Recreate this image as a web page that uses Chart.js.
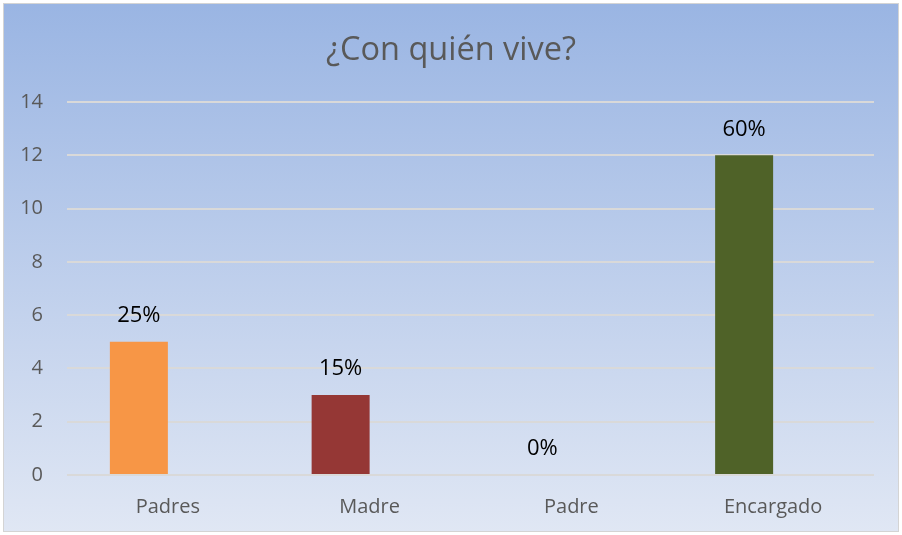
<!DOCTYPE html>
<html>
<head>
<meta charset="utf-8">
<script src="https://cdn.jsdelivr.net/npm/chart.js@4.4.0/dist/chart.umd.min.js"></script>
<style>
  html, body { margin: 0; padding: 0; background: #fff; }
  #wrap { width: 902px; height: 535px; }
</style>
</head>
<body>
<div id="wrap"><canvas id="grafico"></canvas></div>
<script>
// datos del grafico
var categorias = ['Padres', 'Madre', 'Padre', 'Encargado'];
var valores = [5, 3, 0, 12];
var porcentajes = ['25%', '15%', '0%', '60%'];
var colores = ['#F79646', '#953735', '#4F81BD', '#4F6228'];
var vacio = [null, null, null, null];
var ticksY = [0, 2, 4, 6, 8, 10, 12, 14];
var titulo = '¿Con quién vive?';

var fuente = '"Open Sans", sans-serif';

// fondo degradado con borde + titulo centrado en el lienzo
var fondo = {
  id: 'fondo',
  beforeDraw: function(chart) {
    var ctx = chart.ctx;
    ctx.save();
    var g = ctx.createLinearGradient(0, 4, 0, 532);
    g.addColorStop(0, '#9AB5E3');
    g.addColorStop(1, '#E0E7F4');
    ctx.fillStyle = g;
    ctx.fillRect(3, 3, 896, 529);
    ctx.strokeStyle = '#D4D4D4';
    ctx.lineWidth = 1;
    ctx.strokeRect(3.5, 3.5, 895, 528);
    ctx.fillStyle = '#595959';
    ctx.font = '32.5px ' + fuente;
    ctx.textAlign = 'center';
    ctx.textBaseline = 'alphabetic';
    ctx.fillText(titulo, chart.width / 2, 60);
    ctx.restore();
  }
};

// etiquetas de porcentaje encima de las barras
var etiquetas = {
  id: 'etiquetas',
  afterDatasetsDraw: function(chart) {
    var ctx = chart.ctx;
    var meta = chart.getDatasetMeta(0);
    ctx.save();
    ctx.fillStyle = '#000';
    ctx.font = '22px ' + fuente;
    ctx.textAlign = 'center';
    ctx.textBaseline = 'middle';
    meta.data.forEach(function(bar, i) {
      ctx.fillText(porcentajes[i], bar.x, bar.y - 26);
    });
    ctx.restore();
  }
};

new Chart(document.getElementById('grafico'), {
  type: 'bar',
  data: {
    labels: categorias,
    datasets: [
      { label: 'Serie 1', data: valores, backgroundColor: colores },
      { label: 'Serie 2', data: vacio, backgroundColor: '#C0504D' }
    ]
  },
  options: {
    responsive: true,
    maintainAspectRatio: false,
    animation: false,
    categoryPercentage: 0.575,
    barPercentage: 1,
    layout: { padding: { top: 102, left: 0, right: 28, bottom: 0 } },
    plugins: {
      legend: { display: false },
      tooltip: { enabled: false },
      title: { display: false }
    },
    scales: {
      x: {
        grid: { display: false },
        border: { display: false },
        ticks: { color: '#595959', font: { family: fuente, size: 20 }, padding: 12 },
        afterFit: function(s) { s.height = 60; }
      },
      y: {
        min: 0,
        max: 14,
        afterBuildTicks: function(s) { s.ticks = ticksY.map(function(v) { return { value: v }; }); },
        grid: { color: '#D9D9D9', lineWidth: 2, drawTicks: false },
        border: { display: false },
        ticks: { color: '#595959', font: { family: fuente, size: 20 }, padding: 24 },
        afterFit: function(s) { s.width = 67; }
      }
    }
  },
  plugins: [fondo, etiquetas]
});
</script>
</body>
</html>
